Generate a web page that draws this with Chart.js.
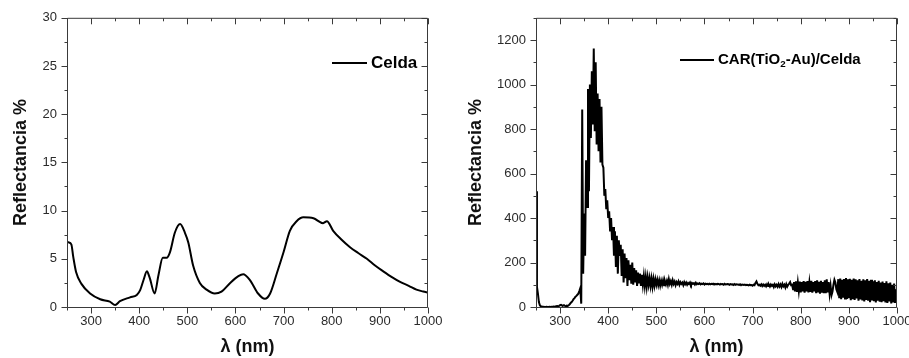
<!DOCTYPE html>
<html>
<head>
<meta charset="utf-8">
<script src="https://cdn.jsdelivr.net/npm/chart.js"></script>
<style>
  html, body { margin: 0; padding: 0; background: #fff; overflow: hidden; }
  body { width: 909px; height: 358px; position: relative; }
  .panel { position: absolute; top: 0; height: 358px; }
  #left { left: 0; width: 455px; }
  #right { left: 455px; width: 470px; }
</style>
</head>
<body>
<div class="panel" id="left"><canvas id="celdaChart" width="455" height="358"></canvas></div>
<div class="panel" id="right"><canvas id="carChart" width="470" height="358"></canvas></div>
<script>
// Celda (left panel)
const celdaWavelength = [250, 253, 259, 263, 269, 280, 298, 319, 339, 350, 360, 381, 395, 402, 409, 416, 422, 432, 440, 449,
  457, 464, 474, 485, 495, 502, 512, 526, 540, 557, 571, 589, 606, 616, 630, 647, 661, 672, 686, 700,
  713, 727, 741, 762, 782, 790, 803, 820, 838, 855, 873, 890, 907, 925, 942, 960, 976, 990, 1000];
const celdaReflectance = [6.8, 6.7, 6.5, 5.2, 3.6, 2.4, 1.4, 0.8, 0.55, 0.2, 0.6, 1.0, 1.25, 1.75, 2.8, 3.7, 3.0, 1.4, 3.3, 5.1,
  5.1, 5.7, 7.7, 8.6, 7.7, 6.7, 4.3, 2.5, 1.8, 1.4, 1.6, 2.5, 3.2, 3.4, 2.8, 1.4, 0.85, 1.4, 3.5, 5.7,
  7.9, 8.9, 9.3, 9.2, 8.7, 8.9, 7.9, 7.0, 6.2, 5.6, 5.0, 4.3, 3.7, 3.1, 2.6, 2.2, 1.8, 1.6, 1.5];

// CAR(TiO2-Au)/Celda (right panel), sampled every 2 nm from 250 nm
const carStart = 250;
const carStep = 2;
const carReflectance = [
  520, 90, 60, 22, 8, 3, 2, 0, 1, 0,
  0, 1, 0, 0, 1, 0, 1, 0, 2, 1,
  2, 3, 4, 3, 5, 8, 10, 7, 6, 8,
  5, 4, 6, 5, 8, 12, 18, 22, 28, 35,
  40, 46, 50, 55, 60, 72, 85, 15, 888, 150,
  420, 230, 660, 450, 980, 520, 1000, 760, 1060, 820,
  1162, 790, 1100, 730, 960, 700, 935, 650, 900, 640,
  626, 500, 530, 440, 480, 400, 430, 340, 400, 300,
  360, 230, 340, 180, 320, 150, 300, 230, 280, 140,
  260, 110, 240, 130, 220, 95, 210, 120, 190, 105,
  200, 100, 175, 110, 165, 95, 155, 110, 150, 95,
  145, 100, 140, 95, 135, 92, 134, 100, 130, 95,
  128, 92, 126, 96, 124, 100, 122, 98, 120, 96,
  118, 100, 120, 98, 116, 102, 118, 100, 125, 104,
  116, 100, 120, 104, 114, 98, 112, 104, 115, 100,
  112, 104, 110, 98, 112, 102, 110, 100, 108, 103,
  110, 100, 108, 104, 107, 101, 109, 102, 106, 103,
  107, 102, 105, 103, 106, 101, 105, 103, 104, 102,
  105, 102, 104, 103, 105, 101, 104, 102, 103, 104,
  103, 101, 104, 102, 103, 100, 104, 101, 102, 103,
  102, 100, 103, 101, 102, 99, 103, 100, 102, 101,
  101, 99, 102, 98, 101, 100, 99, 101, 98, 100,
  99, 97, 100, 98, 99, 96, 100, 98, 108, 115,
  104, 98, 100, 96, 102, 94, 101, 95, 100, 93,
  102, 94, 100, 92, 101, 95, 100, 90, 102, 93,
  100, 91, 103, 92, 101, 90, 104, 93, 100, 88,
  103, 92, 100, 105, 112, 98, 100, 80, 112, 70,
  115, 68, 110, 72, 114, 66, 112, 70, 116, 64,
  113, 70, 117, 66, 110, 68, 118, 64, 112, 70,
  116, 62, 120, 66, 113, 60, 118, 65, 112, 62,
  120, 62, 124, 66, 112, 60, 96, 54, 70, 100,
  122, 110, 80, 68, 125, 40, 128, 35, 122, 42,
  126, 38, 130, 36, 124, 40, 127, 30, 122, 35,
  128, 32, 125, 38, 120, 28, 126, 34, 118, 30,
  124, 25, 120, 32, 126, 28, 118, 22, 122, 30,
  115, 26, 120, 20, 112, 28, 118, 24, 110, 22,
  114, 26, 108, 20, 115, 18, 106, 25, 110, 16,
  100, 20, 105, 18, 80, 30
];

// axis ticks
const xTicks = [300, 400, 500, 600, 700, 800, 900, 1000];
const xMinorTicks = [250, 350, 450, 550, 650, 750, 850, 950];
const celdaYTicks = [0, 5, 10, 15, 20, 25, 30];
const celdaYMinor = [2.5, 7.5, 12.5, 17.5, 22.5, 27.5];
const carYTicks = [0, 200, 400, 600, 800, 1000, 1200];
const carYMinor = [100, 300, 500, 700, 900, 1100, 1300];

const FONT = "Arial, 'Liberation Sans', sans-serif";

// Origin-style frame: outward ticks on left/bottom, inward ticks on top/right
const frameTicks = {
  id: 'frameTicks',
  afterDraw(chart, args, opts) {
    const ctx = chart.ctx;
    const a = chart.chartArea;
    const xs = chart.scales.x, ys = chart.scales.y;
    const L = a.left + 0.5, R = a.right - 0.5, T = a.top + 0.5, B = a.bottom + 0.5;
    ctx.save();
    ctx.strokeStyle = '#3a3a3a';
    ctx.lineWidth = 1;
    ctx.beginPath();
    ctx.rect(L, T, R - L, B - T);
    const xMark = (v, len) => {
      const p = Math.round(xs.getPixelForValue(v)) + 0.5;
      ctx.moveTo(p, B); ctx.lineTo(p, B + len);
      ctx.moveTo(p, T); ctx.lineTo(p, T + len);
    };
    const yMark = (v, len) => {
      const p = Math.round(ys.getPixelForValue(v)) + 0.5;
      ctx.moveTo(L - len, p); ctx.lineTo(L, p);
      ctx.moveTo(R - len, p); ctx.lineTo(R, p);
    };
    xTicks.forEach(v => xMark(v, 6));
    xMinorTicks.forEach(v => xMark(v, 3));
    opts.yMajor.forEach(v => yMark(v, 6));
    opts.yMinor.forEach(v => yMark(v, 3));
    ctx.stroke();

    // legend: short line + label
    const lg = opts.legend;
    ctx.beginPath();
    ctx.strokeStyle = '#000';
    ctx.lineWidth = 2;
    ctx.moveTo(lg.x, lg.y); ctx.lineTo(lg.x + lg.len, lg.y);
    ctx.stroke();
    ctx.fillStyle = '#000';
    ctx.textBaseline = 'middle';
    ctx.textAlign = 'left';
    let tx = lg.x + lg.len + 4;
    lg.parts.forEach(part => {
      ctx.font = 'bold ' + (part.sub ? lg.size * 0.65 : lg.size) + 'px ' + FONT;
      ctx.fillText(part.text, tx, lg.y + (part.sub ? lg.size * 0.3 : 0));
      tx += ctx.measureText(part.text).width;
    });
    ctx.restore();
  }
};

function panelOptions(yTicks, yMax, yAxisWidth, rightPad, frame) {
  return {
    responsive: false,
    animation: false,
    layout: { padding: { left: 0, top: 15, right: rightPad, bottom: 0 } },
    plugins: { legend: { display: false }, tooltip: { enabled: false }, frameTicks: frame },
    scales: {
      x: {
        type: 'linear', min: 250, max: 1000,
        grid: { display: false, drawTicks: false },
        border: { display: false },
        afterBuildTicks: s => { s.ticks = xTicks.map(v => ({ value: v })); },
        afterFit: s => { s.height = 51; },
        ticks: { padding: 7, color: '#2b2b2b', font: { family: FONT, size: 13 }, maxRotation: 0,
                 callback: v => String(v) },
        title: { display: true, text: 'λ (nm)', color: '#111',
                 font: { family: FONT, size: 18, weight: 'bold' }, padding: { top: 0, bottom: 0 } }
      },
      y: {
        type: 'linear', min: 0, max: yMax,
        grid: { display: false, drawTicks: false },
        border: { display: false },
        afterBuildTicks: s => { s.ticks = yTicks.map(v => ({ value: v })); },
        afterFit: s => { s.width = yAxisWidth; },
        ticks: { padding: 10, color: '#2b2b2b', font: { family: FONT, size: 13 },
                 callback: v => String(v) },
        title: { display: true, text: 'Reflectancia %', color: '#111',
                 font: { family: FONT, size: 18, weight: 'bold' }, padding: { top: 10, bottom: 0 } }
      }
    }
  };
}

new Chart(document.getElementById('celdaChart'), {
  type: 'line',
  data: {
    datasets: [{
      label: 'Celda',
      data: celdaWavelength.map((w, i) => ({ x: w, y: celdaReflectance[i] })),
      borderColor: '#000',
      borderWidth: 2,
      pointRadius: 0,
      fill: false,
      cubicInterpolationMode: 'monotone'
    }]
  },
  options: panelOptions(celdaYTicks, 30, 67, 27, {
    yMajor: celdaYTicks, yMinor: celdaYMinor,
    legend: { x: 332, y: 63, len: 35, size: 17, parts: [{ text: 'Celda' }] }
  }),
  plugins: [frameTicks]
});

new Chart(document.getElementById('carChart'), {
  type: 'line',
  data: {
    datasets: [{
      label: 'CAR(TiO2-Au)/Celda',
      data: carReflectance.map((r, i) => ({ x: carStart + i * carStep, y: r })),
      borderColor: '#000',
      borderWidth: 2,
      pointRadius: 0,
      fill: false,
      tension: 0
    }]
  },
  options: panelOptions(carYTicks, 1300, 81, 28, {
    yMajor: carYTicks, yMinor: carYMinor,
    legend: { x: 225, y: 60, len: 34, size: 15,
              parts: [{ text: 'CAR(TiO' }, { text: '2', sub: true }, { text: '-Au)/Celda' }] }
  }),
  plugins: [frameTicks]
});
</script>
</body>
</html>
